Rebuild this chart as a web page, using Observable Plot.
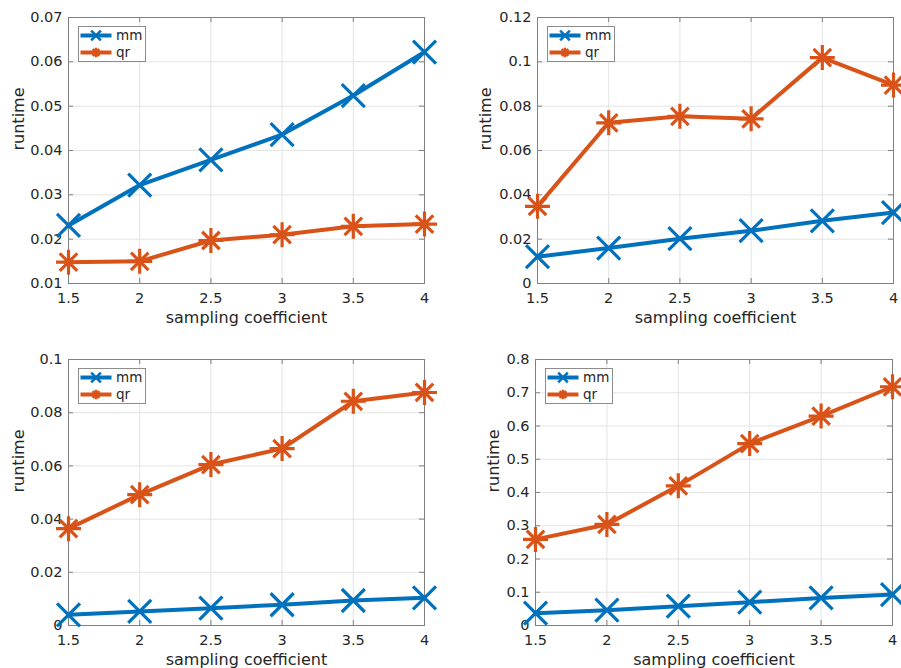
<!DOCTYPE html>
<html><head><meta charset="utf-8">
<script src="https://cdn.jsdelivr.net/npm/d3@7"></script>
<script src="https://cdn.jsdelivr.net/npm/@observablehq/plot@0.6"></script>
<style>
body{margin:0;background:#fff;}
#wrap{position:relative;width:901px;height:668px;overflow:hidden;font-family:"DejaVu Sans",sans-serif;background:#fff;}
.panel{position:absolute;}
</style></head><body><div id="wrap"></div>
<script>
// ---- data ----
const xValues = [1.5, 2, 2.5, 3, 3.5, 4];
const xTicks = [1.5, 2, 2.5, 3, 3.5, 4];
const seriesNames = ["mm", "qr"];
const seriesColors = ["#0072BD", "#D95319"];
const xLabel = "sampling coefficient";
const yLabel = "runtime";

const p1Mm = [0.0231, 0.0322, 0.0379, 0.0436, 0.0524, 0.0622];
const p1Qr = [0.0148, 0.0150, 0.0197, 0.0210, 0.0229, 0.0234];
const p1YTicks = [0.01, 0.02, 0.03, 0.04, 0.05, 0.06, 0.07];

const p2Mm = [0.0121, 0.0160, 0.0202, 0.0238, 0.0283, 0.0320];
const p2Qr = [0.0348, 0.0725, 0.0754, 0.0743, 0.1019, 0.0895];
const p2YTicks = [0, 0.02, 0.04, 0.06, 0.08, 0.1, 0.12];

const p3Mm = [0.0040, 0.0053, 0.0065, 0.0078, 0.0094, 0.0104];
const p3Qr = [0.0364, 0.0492, 0.0605, 0.0665, 0.0843, 0.0876];
const p3YTicks = [0, 0.02, 0.04, 0.06, 0.08, 0.1];

const p4Mm = [0.037, 0.046, 0.058, 0.070, 0.083, 0.093];
const p4Qr = [0.259, 0.304, 0.420, 0.547, 0.630, 0.718];
const p4YTicks = [0, 0.1, 0.2, 0.3, 0.4, 0.5, 0.6, 0.7, 0.8];

// ---- styles / layout ----
const textColor = "#262626";
const boxColor = "#808080";
const gridColor = "#e3e3e3";
const fmt = d3.format("~g");

const timesSymbol = {
  draw(ctx, size) {
    const h = Math.sqrt(size / Math.PI);
    ctx.moveTo(-h, -h); ctx.lineTo(h, h);
    ctx.moveTo(-h, h); ctx.lineTo(h, -h);
  }
};
const asteriskSymbol = {
  draw(ctx, size) {
    const h = Math.sqrt(size / Math.PI);
    const d = h * 0.7;
    ctx.moveTo(-h, 0); ctx.lineTo(h, 0);
    ctx.moveTo(0, -h); ctx.lineTo(0, h);
    ctx.moveTo(-d, -d); ctx.lineTo(d, d);
    ctx.moveTo(-d, d); ctx.lineTo(d, -d);
  }
};
const symbols = [timesSymbol, asteriskSymbol];

const panels = [
  {mm: p1Mm, qr: p1Qr, yTicks: p1YTicks, left: 0,   top: 0,   w: 450, h: 334, ml: 68, mr: 26, mt: 17, mb: 51, ylOff: 50},
  {mm: p2Mm, qr: p2Qr, yTicks: p2YTicks, left: 450, top: 0,   w: 451, h: 334, ml: 87, mr: 8,  mt: 17, mb: 51, ylOff: 52},
  {mm: p3Mm, qr: p3Qr, yTicks: p3YTicks, left: 0,   top: 335, w: 450, h: 333, ml: 68, mr: 26, mt: 24, mb: 43, ylOff: 50},
  {mm: p4Mm, qr: p4Qr, yTicks: p4YTicks, left: 450, top: 335, w: 451, h: 333, ml: 85, mr: 9,  mt: 24, mb: 43, ylOff: 42}
];

const wrap = document.getElementById("wrap");

panels.forEach(cfg => {
  const seriesValues = [cfg.mm, cfg.qr];
  const innerW = cfg.w - cfg.ml - cfg.mr;
  const innerH = cfg.h - cfg.mt - cfg.mb;
  const yDomain = [cfg.yTicks[0], cfg.yTicks[cfg.yTicks.length - 1]];
  const seriesMarks = [];
  seriesNames.forEach((name, si) => {
    const rows = xValues.map((x, i) => ({x, y: seriesValues[si][i], s: name}));
    seriesMarks.push(Plot.line(rows, {x: "x", y: "y", stroke: seriesColors[si], strokeWidth: 4, strokeLinejoin: "round"}));
    seriesMarks.push(Plot.dot(rows, {x: "x", y: "y", symbol: symbols[si], r: si === 0 ? 11.5 : 12.5, stroke: seriesColors[si], fill: "none", strokeWidth: 3.2}));
  });
  const chart = Plot.plot({
    width: cfg.w, height: cfg.h,
    marginLeft: cfg.ml, marginRight: cfg.mr, marginTop: cfg.mt, marginBottom: cfg.mb,
    style: {fontFamily: '"DejaVu Sans", sans-serif', fontSize: "14.5px", color: textColor, background: "transparent", overflow: "visible", maxWidth: "none"},
    x: {domain: [xTicks[0], xTicks[xTicks.length - 1]]},
    y: {domain: yDomain},
    marks: [
      Plot.gridX(xTicks, {stroke: gridColor, strokeOpacity: 1}),
      Plot.gridY(cfg.yTicks, {stroke: gridColor, strokeOpacity: 1}),
      Plot.ruleY(cfg.yTicks, {stroke: boxColor, insetRight: innerW - 5}),
      Plot.ruleY(cfg.yTicks, {stroke: boxColor, insetLeft: innerW - 5}),
      Plot.ruleX(xTicks, {stroke: boxColor, insetTop: innerH - 5}),
      Plot.ruleX(xTicks, {stroke: boxColor, insetBottom: innerH - 5}),
      Plot.frame({stroke: boxColor}),
      Plot.axisX(xTicks, {tickSize: 0, tickPadding: 9, tickFormat: fmt, label: null, fill: textColor}),
      Plot.axisY(cfg.yTicks, {tickSize: 0, tickPadding: 6, tickFormat: fmt, label: null, fill: textColor}),
      Plot.text([xLabel], {text: d => d, frameAnchor: "bottom", dy: 34, lineAnchor: "middle", fontSize: 16, fill: textColor}),
      Plot.text([yLabel], {text: d => d, frameAnchor: "left", dx: -cfg.ylOff, rotate: -90, lineAnchor: "middle", fontSize: 16, fill: textColor}),
      ...seriesMarks
    ]
  });
  const div = document.createElement("div");
  div.className = "panel";
  div.style.left = cfg.left + "px";
  div.style.top = cfg.top + "px";
  div.appendChild(chart);
  wrap.appendChild(div);

  // legend (MATLAB-style box, top-left inside axes)
  const lw = 68, lh = 36;
  const lg = d3.create("svg")
    .attr("width", lw).attr("height", lh)
    .style("position", "absolute")
    .style("left", (cfg.left + cfg.ml + 10) + "px")
    .style("top", (cfg.top + cfg.mt + 9) + "px");
  lg.append("rect").attr("x", 0.5).attr("y", 0.5).attr("width", lw - 1).attr("height", lh - 1)
    .attr("fill", "#fff").attr("stroke", "#8c8c8c");
  seriesNames.forEach((name, si) => {
    const cy = si === 0 ? 9.5 : 26.5;
    lg.append("line").attr("x1", 2.5).attr("x2", 33.5).attr("y1", cy).attr("y2", cy)
      .attr("stroke", seriesColors[si]).attr("stroke-width", 4);
    const p = d3.path();
    symbols[si].draw(p, Math.PI * 4.8 * 4.8);
    lg.append("path").attr("d", p.toString()).attr("transform", `translate(18,${cy})`)
      .attr("fill", "none").attr("stroke", seriesColors[si]).attr("stroke-width", 2.6);
    lg.append("text").attr("x", 38).attr("y", cy).attr("dy", "0.35em")
      .attr("font-size", 13.5).attr("font-family", '"DejaVu Sans", sans-serif')
      .attr("fill", textColor).text(name);
  });
  wrap.appendChild(lg.node());
});
</script>
</body></html>
